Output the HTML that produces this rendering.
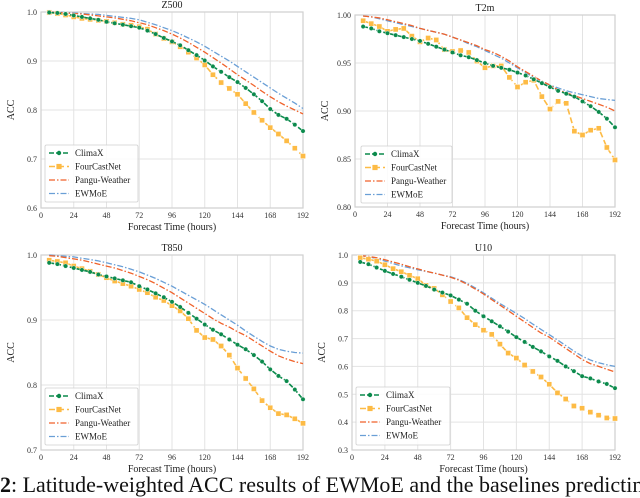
<!DOCTYPE html>
<html><head><meta charset="utf-8">
<style>
html,body{margin:0;padding:0;background:#fff;width:640px;height:498px;overflow:hidden}
svg{display:block;font-family:"Liberation Serif",serif}
</style></head>
<body>
<svg id="fig" width="640" height="498" viewBox="0 0 640 498" xmlns="http://www.w3.org/2000/svg">
<text x="0" y="492" font-size="22" fill="#111"><tspan font-weight="bold">2</tspan>: Latitude-weighted ACC results of EWMoE and the baselines predicting</text>
</svg>
<script>
const hours = [6,12,18,24,30,36,42,48,54,60,66,72,78,84,90,96,102,108,114,120,126,132,138,144,150,156,162,168,174,180,186,192];
const xTicks = [0,24,48,72,96,120,144,168,192];
const seriesNames = ["ClimaX","FourCastNet","Pangu-Weather","EWMoE"];

const z500Climax = [.999,.998,.996,.993,.99,.987,.984,.98,.977,.974,.971,.968,.962,.955,.947,.94,.932,.922,.912,.901,.889,.878,.867,.857,.845,.832,.818,.802,.79,.782,.77,.757];
const z500Fcn = [.999,.997,.994,.99,.987,.985,.983,.981,.978,.975,.973,.970,.965,.955,.946,.939,.929,.918,.906,.892,.872,.856,.844,.832,.813,.795,.779,.764,.751,.737,.722,.706];
const z500Pangu = [1.0,.999,.998,.997,.996,.994,.992,.99,.988,.985,.982,.978,.974,.968,.962,.955,.947,.938,.928,.918,.907,.896,.884,.872,.861,.85,.838,.827,.817,.808,.8,.792];
const z500Ewmoe = [1.0,.9995,.999,.998,.997,.996,.995,.993,.991,.989,.987,.984,.979,.974,.968,.962,.955,.947,.939,.93,.92,.91,.9,.889,.878,.867,.856,.845,.834,.824,.814,.803];
const z500Ticks = ["0.6","0.7","0.8","0.9","1.0"];

const t2mClimax = [.988,.986,.983,.981,.979,.977,.975,.973,.970,.967,.964,.961,.958,.956,.953,.950,.947,.945,.943,.940,.937,.933,.929,.925,.921,.918,.915,.910,.905,.899,.892,.883];
const t2mFcn = [.994,.991,.988,.983,.985,.986,.978,.972,.976,.974,.964,.962,.963,.961,.952,.945,.947,.947,.935,.925,.930,.932,.915,.902,.910,.908,.879,.875,.880,.882,.862,.849];
const t2mPangu = [.999,.998,.997,.995,.993,.991,.989,.986,.984,.982,.980,.977,.974,.971,.968,.964,.961,.957,.952,.946,.941,.936,.931,.927,.922,.919,.916,.913,.910,.907,.904,.900];
const t2mEwmoe = [.999,.998,.996,.994,.992,.990,.988,.986,.984,.982,.980,.977,.974,.970,.967,.963,.959,.955,.950,.945,.940,.935,.931,.927,.924,.921,.919,.917,.915,.913,.912,.911];
const t2mTicks = ["0.80","0.85","0.90","0.95","1.00"];

const t850Climax = [.988,.986,.983,.980,.977,.974,.970,.967,.964,.961,.958,.952,.947,.941,.935,.928,.920,.911,.902,.893,.885,.878,.870,.862,.855,.846,.836,.824,.814,.806,.793,.778];
const t850Fcn = [.992,.990,.988,.983,.979,.975,.970,.965,.960,.956,.952,.947,.942,.935,.930,.922,.914,.902,.884,.873,.870,.860,.846,.826,.810,.794,.776,.765,.756,.754,.748,.741];
const t850Pangu = [.999,.998,.996,.994,.992,.989,.986,.983,.980,.976,.972,.967,.962,.956,.949,.942,.934,.926,.918,.910,.902,.895,.889,.882,.876,.868,.860,.852,.845,.840,.836,.833];
const t850Ewmoe = [1.0,.999,.998,.997,.995,.993,.991,.988,.985,.982,.978,.974,.969,.964,.958,.952,.945,.938,.931,.924,.916,.908,.900,.892,.883,.875,.867,.860,.855,.852,.850,.849];
const t850Ticks = ["0.7","0.8","0.9","1.0"];

const u10Climax = [.975,.967,.955,.943,.932,.922,.911,.900,.889,.876,.865,.855,.840,.825,.800,.780,.762,.744,.725,.705,.688,.670,.654,.636,.620,.600,.583,.565,.557,.546,.537,.522];
const u10Fcn = [.99,.985,.978,.965,.951,.940,.927,.915,.891,.880,.857,.833,.810,.775,.750,.730,.715,.680,.648,.630,.605,.582,.562,.536,.505,.483,.458,.450,.436,.425,.415,.413];
const u10Pangu = [.998,.995,.990,.983,.975,.967,.958,.950,.942,.935,.928,.920,.910,.895,.878,.86,.84,.82,.80,.78,.76,.74,.72,.705,.685,.665,.645,.625,.61,.60,.59,.58];
const u10Ewmoe = [.998,.994,.987,.978,.969,.961,.954,.947,.941,.935,.928,.922,.912,.898,.882,.864,.845,.826,.808,.79,.772,.752,.733,.714,.695,.675,.655,.637,.623,.613,.606,.600];
const u10Ticks = ["0.3","0.4","0.5","0.6","0.7","0.8","0.9","1.0"];

const NS="http://www.w3.org/2000/svg";
const svg=document.getElementById('fig');
const colors=["#0b8a4c","#fdbb45","#f0622a","#6a9fd6"];
const dashes=["5,2","6,3","6,2,1.5,2","6,2,1.5,2"];
function mk(tag,attrs,parent){const e=document.createElementNS(NS,tag);for(const k in attrs)e.setAttribute(k,attrs[k]);(parent||svg).appendChild(e);return e;}

function panel(key,title,L,R,T,B,ticks,series,legendBox){
  const g=mk('g',{});
  
  
  const ymin=parseFloat(ticks[0]),ymax=parseFloat(ticks[ticks.length-1]);
  const xs=h=>L+(h-0)/192*(R-L);
  const ys=v=>B-(v-ymin)/(ymax-ymin)*(B-T);
  // grid
  xTicks.forEach(t=>{const l=mk('line',{x1:xs(t),x2:xs(t),y1:T,y2:B,stroke:'#e3e3e3','stroke-width':1},g);
    const tx=mk('text',{x:xs(t),y:B+10,'font-size':8,'text-anchor':'middle',fill:'#333'},g);tx.textContent=t;});
  ticks.forEach(t=>{const v=parseFloat(t);const l=mk('line',{x1:L,x2:R,y1:ys(v),y2:ys(v),stroke:'#e3e3e3','stroke-width':1},g);
    const tx=mk('text',{x:L-4,y:ys(v)+3,'font-size':8,'text-anchor':'end',fill:'#333'},g);tx.textContent=t;});
  const fr=mk('rect',{x:L,y:T,width:R-L,height:B-T,fill:'none',stroke:'#cfcfcf','stroke-width':1.2},g);
  
  const tt=mk('text',{x:(L+R)/2,y:T-4,'font-size':10,'text-anchor':'middle',fill:'#222'},g);tt.textContent=title;
  
  const xl=mk('text',{x:(L+R)/2,y:B+22,'font-size':10,'text-anchor':'middle',fill:'#222'},g);xl.textContent='Forecast Time (hours)';
  
  const yl=mk('text',{x:0,y:0,'font-size':10,'text-anchor':'middle',fill:'#222',transform:`translate(${L-27},${(T+B)/2}) rotate(-90)`},g);yl.textContent='ACC';
  
  // series, draw from back: EWMoE, Pangu, FCN, ClimaX
  [3,2,1,0].forEach(i=>{
    const vals=series[i];
    const pts=vals.map((v,j)=>xs(hours[j]).toFixed(1)+','+ys(v).toFixed(1)).join(' ');
    const pl=mk('polyline',{points:pts,fill:'none',stroke:colors[i],'stroke-width':i<2?1.6:1.3,'stroke-dasharray':dashes[i]},g);
    
    
    if(i===1){vals.forEach((v,j)=>{const m=mk('rect',{x:xs(hours[j])-2.6,y:ys(v)-2.6,width:5.2,height:5.2,fill:colors[1],stroke:'#fff','stroke-width':0.5},g);
      });}
    if(i===0){vals.forEach((v,j)=>{const m=mk('circle',{cx:xs(hours[j]),cy:ys(v),r:2.2,fill:colors[0],stroke:'#fff','stroke-width':0.4},g);
      });}
  });
  // legend
  const [lx,ly,lw,lh]=legendBox;
  const lg=mk('g',{},g);
  
  mk('rect',{x:lx,y:ly,width:lw,height:lh,fill:'#fff','fill-opacity':0.85,stroke:'#cfcfcf','stroke-width':0.8,rx:1.5},lg);
  seriesNames.forEach((n,i)=>{
    const yy=ly+8+i*13.5;
    const e=mk('g',{},lg);
    
    mk('line',{x1:lx+4,x2:lx+24,y1:yy,y2:yy,stroke:colors[i],'stroke-width':i<2?1.6:1.3,'stroke-dasharray':dashes[i]},e);
    if(i===0)mk('circle',{cx:lx+14,cy:yy,r:2.2,fill:colors[0]},e);
    if(i===1)mk('rect',{x:lx+11.4,y:yy-2.6,width:5.2,height:5.2,fill:colors[1]},e);
    const t=mk('text',{x:lx+30,y:yy+3,'font-size':9,fill:'#222'},e);t.textContent=n;
  });
}
panel('z500','Z500',41,303,12,208,z500Ticks,[z500Climax,z500Fcn,z500Pangu,z500Ewmoe],[45,145,93,57]);
panel('t2m','T2m',355,615,15,207,t2mTicks,[t2mClimax,t2mFcn,t2mPangu,t2mEwmoe],[361,146,91,57]);
panel('t850','T850',41,303,255,450,t850Ticks,[t850Climax,t850Fcn,t850Pangu,t850Ewmoe],[45,388,93,57]);
panel('u10','U10',352,615,255,450,u10Ticks,[u10Climax,u10Fcn,u10Pangu,u10Ewmoe],[356,387,94,58]);
</script>
</body></html>
